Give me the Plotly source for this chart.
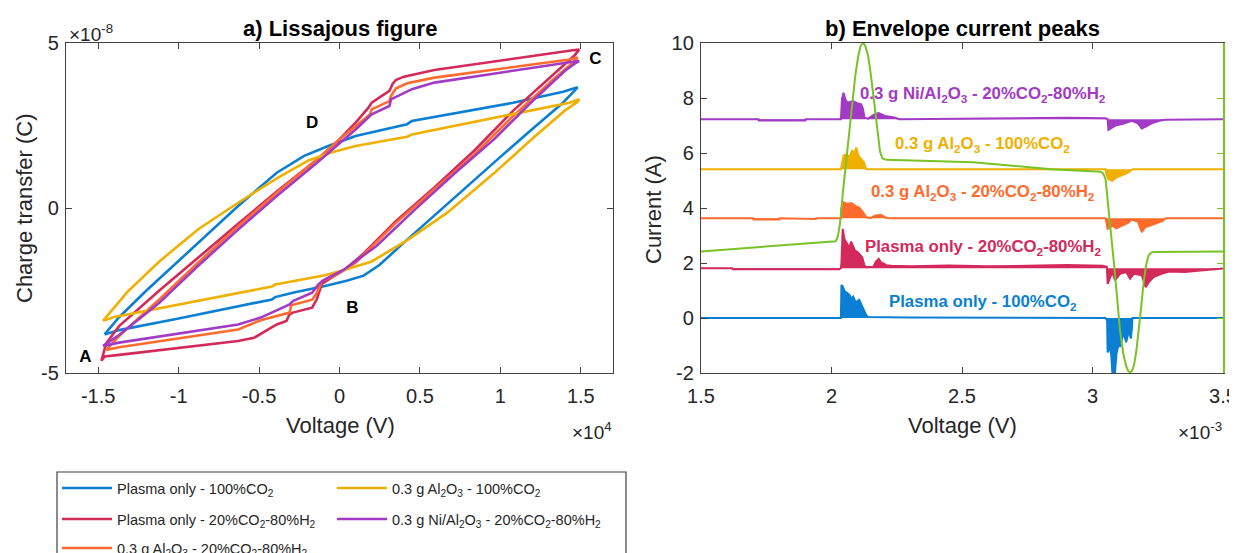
import plotly.graph_objects as go

# page offset of the plot div (body margin) and figure size
OFF = 8
WF, HF = 1240, 545
FONT = "Arial, 'Liberation Sans', Helvetica, sans-serif"

# ---------------- colours ----------------
C_BLUE = "#0b7fd3"
C_YELLOW = "#f0b000"
C_RED = "#d42a5b"
C_PURPLE = "#a23ac6"
C_ORANGE = "#ff6b2c"
C_GREEN = "#78c326"
AX = "#404040"
TXT = "#262626"

# ---------------- a) Lissajous data (Voltage in 1e4 V, charge in 1e-8 C) ----------------
blue_v = [-1.46, -1.37, -1.00, -0.42, -0.40, -0.29, -0.07, 0.05, 0.15, 0.25, 0.40, 0.60, 0.80, 1.00,
          1.20, 1.38, 1.46, 1.48, 1.39, 1.08, 0.45, 0.42, 0.10, -0.07, -0.22, -0.39, -0.63, -1.00,
          -1.20, -1.37, -1.46]
blue_q = [-3.83, -3.70, -3.35, -2.77, -2.70, -2.57, -2.34, -2.20, -2.05, -1.72, -1.05, -0.18, 0.70, 1.55,
          2.40, 3.15, 3.55, 3.66, 3.52, 3.19, 2.64, 2.54, 2.18, 1.88, 1.58, 1.07, 0.06, -1.61,
          -2.50, -3.31, -3.83]

yellow_v = [-1.47, -1.40, -0.42, -0.40, -0.09, 0.03, 0.20, 0.42, 0.67, 0.96, 1.21, 1.40, 1.48, 1.49,
            1.43, 1.08, 0.45, 0.42, 0.10, -0.04, -0.19, -0.39, -0.63, -0.88, -1.12, -1.32, -1.47]
yellow_q = [-3.42, -3.30, -2.38, -2.32, -2.04, -1.88, -1.62, -0.98, -0.14, 1.05, 2.15, 2.95, 3.22, 3.30,
            3.19, 2.84, 2.23, 2.16, 1.88, 1.70, 1.45, 0.90, 0.16, -0.65, -1.62, -2.55, -3.42]

red_v = [-1.48, -1.46, -1.37, -0.63, -0.53, -0.45, -0.39, -0.33, -0.31, -0.29, -0.17, -0.14, -0.11,
         -0.04, 0.03, 0.15, 0.35, 0.59, 0.84, 1.08, 1.33, 1.46, 1.49, 1.45, 0.59, 0.47, 0.40, 0.35,
         0.33, 0.32, 0.31, 0.20, 0.18, 0.10, 0.05, -0.02, -0.14, -0.39, -0.63, -0.88, -1.12, -1.37,
         -1.45, -1.48]
red_q = [-4.63, -4.50, -4.45, -4.03, -3.93, -3.70, -3.53, -3.42, -3.22, -3.17, -3.02, -2.75, -2.30,
         -2.08, -1.88, -1.38, -0.40, 0.62, 1.75, 2.95, 4.05, 4.62, 4.80, 4.78, 4.18, 4.06, 3.98, 3.88,
         3.76, 3.65, 3.55, 3.19, 3.04, 2.59, 2.33, 1.98, 1.47, 0.50, -0.48, -1.50, -2.50, -3.58,
         -4.10, -4.63]

orange_v = [-1.45, -1.37, -0.63, -0.49, -0.31, -0.30, -0.17, -0.14, -0.11, -0.02, 0.10, 0.35, 0.59,
            0.84, 1.08, 1.33, 1.45, 1.48, 1.43, 0.59, 0.42, 0.35, 0.32, 0.31, 0.20, 0.19, 0.10, 0.00,
            -0.14, -0.39, -0.63, -0.88, -1.12, -1.37, -1.45]
orange_q = [-4.30, -4.22, -3.68, -3.40, -3.17, -2.95, -2.78, -2.57, -2.22, -2.02, -1.66, -0.45, 0.57,
            1.63, 2.79, 3.90, 4.40, 4.56, 4.50, 3.95, 3.78, 3.62, 3.39, 3.24, 2.99, 2.84, 2.48, 2.08,
            1.47, 0.46, -0.55, -1.66, -2.77, -3.88, -4.30]

purple_v = [-1.47, -1.37, -0.63, -0.49, -0.31, -0.29, -0.17, -0.13, -0.09, 0.03, 0.23, 0.47, 0.72,
            0.96, 1.21, 1.40, 1.47, 1.49, 1.45, 0.59, 0.45, 0.32, 0.31, 0.20, 0.10, -0.02, -0.14,
            -0.39, -0.63, -0.88, -1.12, -1.37, -1.47]
purple_q = [-4.18, -4.08, -3.53, -3.32, -2.92, -2.82, -2.57, -2.31, -2.16, -1.86, -1.15, -0.04, 1.07,
            2.08, 3.29, 4.15, 4.40, 4.45, 4.43, 3.80, 3.60, 3.29, 3.09, 2.84, 2.38, 1.88, 1.37,
            0.36, -0.65, -1.76, -2.87, -3.85, -4.18]

loop_labels = ["A", "B", "C", "D"]
loop_label_v = [-1.58, 0.08, 1.59, -0.17]
loop_label_q = [-4.55, -3.06, 4.48, 2.55]

# ---------------- b) Envelope current peaks (time in 1e-3, current in A) ----------------
blue_base = 0.00
blue_t = [1.50, 2.036, 2.038, 2.043, 2.050, 2.058, 2.068, 2.076, 2.083, 2.090, 2.095, 2.106, 2.114,
          2.121, 2.128, 2.133, 2.140, 2.300, 3.050, 3.056, 3.058, 3.065, 3.072, 3.076, 3.086, 3.092,
          3.100, 3.106, 3.114, 3.121, 3.129, 3.136, 3.141, 3.147, 3.151, 3.153, 3.500]
blue_i = [0.00, 0.00, 1.20, 1.15, 0.98, 0.92, 0.85, 0.70, 0.78, 0.62, 0.58, 0.66, 0.48,
          0.36, 0.22, 0.10, 0.04, 0.02, 0.00, -0.10, -1.25, -1.05, -1.35, -2.00, -2.00, -1.30,
          -0.95, -1.05, -0.70, -0.62, -0.88, -0.60, -0.52, -0.75, -0.35, 0.00, 0.00]

red_base = 1.81
red_t = [1.50, 1.620, 1.622, 2.030, 2.036, 2.038, 2.043, 2.050, 2.060, 2.068, 2.075, 2.083, 2.090,
         2.100, 2.110, 2.118, 2.125, 2.130, 2.160, 2.170, 2.181, 2.190, 2.200, 2.210, 2.230, 2.300,
         2.450, 2.600, 2.750, 2.900, 3.040, 3.055, 3.058, 3.076, 3.086, 3.106, 3.129, 3.144, 3.159,
         3.189, 3.204, 3.216, 3.234, 3.264, 3.294, 3.354, 3.414, 3.450, 3.500]
red_i = [1.81, 1.81, 1.77, 1.77, 1.81, 2.00, 3.24, 2.85, 2.70, 2.55, 2.78, 2.58, 2.45,
         2.40, 2.30, 2.20, 1.95, 1.85, 1.86, 2.05, 2.15, 2.02, 1.98, 1.92, 1.90, 1.88,
         1.91, 1.88, 1.90, 1.93, 1.90, 1.86, 1.24, 1.67, 1.37, 1.61, 1.67, 1.43, 1.61,
         1.55, 1.12, 1.31, 1.49, 1.61, 1.69, 1.67, 1.73, 1.76, 1.80]

orange_base = 3.63
orange_t = [1.50, 1.70, 1.701, 1.80, 1.801, 1.94, 1.941, 2.036, 2.038, 2.046, 2.061, 2.076, 2.091,
            2.106, 2.121, 2.133, 2.150, 2.166, 2.189, 2.210, 2.230, 3.050, 3.058, 3.076, 3.091,
            3.114, 3.136, 3.151, 3.174, 3.189, 3.201, 3.226, 3.271, 3.280, 3.500]
orange_i = [3.63, 3.63, 3.58, 3.58, 3.63, 3.60, 3.63, 3.63, 3.98, 4.21, 4.15, 4.18, 4.08,
            4.02, 3.84, 3.66, 3.64, 3.72, 3.75, 3.64, 3.63, 3.63, 3.24, 3.36, 3.26,
            3.36, 3.46, 3.58, 3.50, 3.12, 3.30, 3.38, 3.54, 3.63, 3.63]

yellow_base = 5.41
yellow_t = [1.50, 2.036, 2.038, 2.046, 2.058, 2.068, 2.079, 2.088, 2.095, 2.103, 2.114, 2.124,
            2.132, 2.136, 3.050, 3.053, 3.061, 3.076, 3.091, 3.114, 3.136, 3.151, 3.155, 3.500]
yellow_i = [5.41, 5.41, 5.50, 5.90, 5.96, 5.84, 6.08, 6.00, 6.20, 5.90, 5.78, 5.66,
            5.44, 5.41, 5.41, 5.23, 5.05, 4.99, 5.11, 5.20, 5.29, 5.39, 5.41, 5.41]

purple_base = 7.23
purple_t = [1.50, 1.72, 1.721, 1.90, 1.901, 2.036, 2.040, 2.046, 2.053, 2.061, 2.083, 2.098, 2.114,
            2.121, 2.126, 2.140, 2.166, 2.181, 2.204, 2.241, 2.260, 2.600, 2.900, 3.050, 3.058,
            3.061, 3.076, 3.091, 3.114, 3.136, 3.151, 3.174, 3.189, 3.204, 3.226, 3.256, 3.280, 3.500]
purple_i = [7.23, 7.23, 7.18, 7.18, 7.23, 7.23, 7.95, 8.19, 7.95, 7.83, 7.89, 7.81, 7.77,
            7.59, 7.29, 7.25, 7.41, 7.45, 7.35, 7.29, 7.23, 7.27, 7.28, 7.26, 7.23,
            6.84, 6.92, 7.01, 7.05, 7.13, 7.17, 7.08, 6.89, 6.96, 7.08, 7.17, 7.21, 7.23]

green_t = [1.500, 2.016, 2.024, 2.032, 2.045, 2.061, 2.076, 2.091, 2.102, 2.111, 2.118, 2.124, 2.131,
           2.140, 2.150, 2.162, 2.175, 2.186, 2.195, 2.211, 2.542, 2.843, 3.031, 3.041, 3.050, 3.061,
           3.072, 3.083, 3.095, 3.106, 3.118, 3.129, 3.137, 3.144, 3.151, 3.159, 3.168, 3.177, 3.187,
           3.196, 3.206, 3.215, 3.225, 3.234, 3.500]
green_v = [2.42, 2.79, 2.95, 3.40, 4.70, 6.14, 7.60, 8.80, 9.50, 9.88, 9.98, 9.98, 9.85,
           9.55, 8.90, 7.90, 6.80, 6.05, 5.80, 5.75, 5.66, 5.41, 5.32, 5.25, 5.05, 4.08,
           3.00, 1.91, 0.65, -0.51, -1.30, -1.75, -1.93, -1.97, -1.93, -1.72, -1.20, -0.51, 0.45,
           1.31, 1.95, 2.28, 2.38, 2.40, 2.42]

label_blue = "Plasma only - 100%CO<sub>2</sub>"
label_yellow = "0.3 g Al<sub>2</sub>O<sub>3</sub> - 100%CO<sub>2</sub>"
label_red = "Plasma only - 20%CO<sub>2</sub>-80%H<sub>2</sub>"
label_purple = "0.3 g Ni/Al<sub>2</sub>O<sub>3</sub> - 20%CO<sub>2</sub>-80%H<sub>2</sub>"
label_orange = "0.3 g Al<sub>2</sub>O<sub>3</sub> - 20%CO<sub>2</sub>-80%H<sub>2</sub>"

peak_label_t = 2.58
peak_label_i = [0.57, 2.57, 4.57, 6.31, 8.13]

x_ticks_a = [-1.5, -1, -0.5, 0, 0.5, 1, 1.5]
y_ticks_a = [-5, 0, 5]
x_ticks_b = [1.5, 2, 2.5, 3, 3.5]
y_ticks_b = [-2, 0, 2, 4, 6, 8, 10]


def fx(p):
    return (p - OFF) / WF


def fy(p):
    return 1 - (p - OFF) / HF


def tt(vals):
    return [f"{v:g}" for v in vals]


fig = go.Figure()

# ---- left: Lissajous loops (draw order), legends by rows ----
loops = [
    (label_blue, blue_v, blue_q, C_BLUE, "legend"),
    (label_red, red_v, red_q, C_RED, "legend2"),
    (label_orange, orange_v, orange_q, C_ORANGE, "legend3"),
    (label_yellow, yellow_v, yellow_q, C_YELLOW, "legend"),
    (label_purple, purple_v, purple_q, C_PURPLE, "legend2"),
]
for name, v, q, col, lg in loops:
    fig.add_trace(go.Scatter(x=v, y=q, mode="lines", name=name, legend=lg,
                             line=dict(color=col, width=2.6), xaxis="x", yaxis="y"))

fig.add_trace(go.Scatter(x=loop_label_v, y=loop_label_q, mode="text", text=loop_labels,
                         textfont=dict(family=FONT, size=17, color="#000000", weight="bold"),
                         showlegend=False, xaxis="x", yaxis="y", hoverinfo="skip"))

# ---- right: current envelopes ----
currents = [
    (blue_t, blue_i, blue_base, C_BLUE),
    (red_t, red_i, red_base, C_RED),
    (orange_t, orange_i, orange_base, C_ORANGE),
    (yellow_t, yellow_i, yellow_base, C_YELLOW),
    (purple_t, purple_i, purple_base, C_PURPLE),
]
for t, i, base, col in currents:
    fig.add_trace(go.Scatter(x=t, y=[base] * len(t), mode="lines", line=dict(width=0, color=col),
                             showlegend=False, hoverinfo="skip", xaxis="x2", yaxis="y2"))
    fig.add_trace(go.Scatter(x=t, y=i, mode="lines", fill="tonexty", fillcolor=col,
                             line=dict(color=col, width=2), showlegend=False,
                             xaxis="x2", yaxis="y2"))

fig.add_trace(go.Scatter(x=green_t, y=green_v, mode="lines", line=dict(color=C_GREEN, width=2),
                         showlegend=False, xaxis="x2", yaxis="y3"))

axis_common = dict(showline=True, linecolor=AX, linewidth=1.3, ticks="inside", ticklen=6,
                   tickwidth=1.1, tickcolor=AX, showgrid=False, zeroline=False,
                   tickfont=dict(family=FONT, size=20, color=TXT))

dom_y = [fy(373), fy(43)]

fig.update_layout(
    width=WF, height=HF,
    margin=dict(l=0, r=0, t=0, b=0, autoexpand=False),
    paper_bgcolor="white", plot_bgcolor="white",
    font=dict(family=FONT, color=TXT),
    xaxis=dict(domain=[fx(66), fx(613)], range=[-1.7, 1.7], tickvals=x_ticks_a,
               ticktext=tt(x_ticks_a), mirror="ticks", anchor="y", ticklabelstandoff=5,
               **axis_common),
    yaxis=dict(domain=dom_y, range=[-5, 5], tickvals=y_ticks_a, ticktext=tt(y_ticks_a),
               mirror="ticks", anchor="x", ticklabelstandoff=2, **axis_common),
    xaxis2=dict(domain=[fx(701), fx(1223)], range=[1.5, 3.5], tickvals=x_ticks_b,
                ticktext=tt(x_ticks_b), mirror="ticks", anchor="y2", ticklabelstandoff=5,
                **axis_common),
    yaxis2=dict(domain=dom_y, range=[-2, 10], tickvals=y_ticks_b, ticktext=tt(y_ticks_b),
                mirror=False, anchor="x2", ticklabelstandoff=2, **axis_common),
    yaxis3=dict(overlaying="y2", side="right", anchor="x2", range=[-2, 10], tickvals=y_ticks_b,
                showticklabels=False, showline=True, linecolor=C_GREEN, linewidth=1.6,
                ticks="inside", ticklen=6, tickcolor=C_GREEN, showgrid=False, zeroline=False),
    showlegend=True,
)

leg_common = dict(orientation="h", x=fx(57), xanchor="left", yanchor="middle",
                  bgcolor="rgba(0,0,0,0)", borderwidth=0, itemwidth=50, traceorder="normal",
                  entrywidth=210, entrywidthmode="pixels",
                  font=dict(family=FONT, size=14.5, color=TXT))
fig.update_layout(legend=dict(y=fy(488), **leg_common),
                  legend2=dict(y=fy(519), **leg_common),
                  legend3=dict(y=fy(548), **leg_common))

fig.add_shape(type="rect", xref="paper", yref="paper", x0=fx(57), x1=fx(626), y0=fy(575), y1=fy(472),
              line=dict(color=AX, width=1.2), fillcolor="rgba(0,0,0,0)", layer="below")

ann = []
ann.append(dict(text="<b>a) Lissajous figure</b>", x=fx(340), y=fy(29), xref="paper", yref="paper",
                showarrow=False, xanchor="center", yanchor="middle",
                font=dict(family=FONT, size=22, color="#000000")))
ann.append(dict(text="<b>b) Envelope current peaks</b>", x=fx(962), y=fy(29), xref="paper", yref="paper",
                showarrow=False, xanchor="center", yanchor="middle",
                font=dict(family=FONT, size=22, color="#000000")))
for txt, xp, yp, ang in [("Charge transfer (C)", 24, 208, -90), ("Voltage (V)", 340, 425, 0),
                         ("Current (A)", 653, 210, -90), ("Voltage (V)", 962, 425, 0)]:
    ann.append(dict(text=txt, x=fx(xp), y=fy(yp), xref="paper", yref="paper", showarrow=False,
                    textangle=ang, xanchor="center", yanchor="middle",
                    font=dict(family=FONT, size=22, color=TXT)))
ann.append(dict(text="\u00d710<sup>-8</sup>", x=fx(67), y=fy(33), xref="paper", yref="paper",
                showarrow=False, xanchor="left", yanchor="middle",
                font=dict(family=FONT, size=19, color=TXT)))
ann.append(dict(text="\u00d710<sup>4</sup>", x=fx(614), y=fy(431), xref="paper", yref="paper",
                showarrow=False, xanchor="right", yanchor="middle",
                font=dict(family=FONT, size=19, color=TXT)))
ann.append(dict(text="\u00d710<sup>-3</sup>", x=fx(1224), y=fy(431), xref="paper", yref="paper",
                showarrow=False, xanchor="right", yanchor="middle",
                font=dict(family=FONT, size=19, color=TXT)))

for txt, yv, col in zip([label_blue, label_red, label_orange, label_yellow, label_purple],
                        peak_label_i, [C_BLUE, C_RED, C_ORANGE, C_YELLOW, C_PURPLE]):
    ann.append(dict(text=f"<b>{txt}</b>", x=peak_label_t, y=yv, xref="x2", yref="y2",
                    showarrow=False, xanchor="center", yanchor="middle",
                    font=dict(family=FONT, size=16.8, color=col)))

fig.update_layout(annotations=ann)

fig.write_html("out.html")
